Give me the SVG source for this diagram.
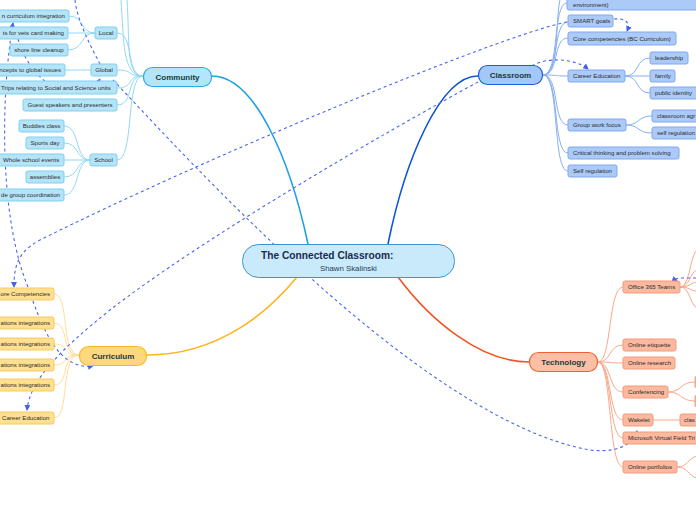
<svg xmlns="http://www.w3.org/2000/svg" width="696" height="520" viewBox="0 0 696 520">
<defs>
<style>
text{font-family:"Liberation Sans",Arial,sans-serif}
.main{font-size:8px;font-weight:bold;fill:#173a40}
.t{font-size:6.1px;fill:#2c2c2c}
.cn{fill:#b5e4f8;stroke:#7fcff0;stroke-width:1}
.cl{fill:#abcaf8;stroke:#7ea8ee;stroke-width:1}
.cu{fill:#ffdf90;stroke:#f8ca60;stroke-width:1}
.te{fill:#fbb99f;stroke:#f49a78;stroke-width:1}
.lc{fill:none;stroke:#92d8f5;stroke-width:1}
.ll{fill:none;stroke:#86aff2;stroke-width:1}
.lu{fill:none;stroke:#ffde9a;stroke-width:1}
.lt{fill:none;stroke:#f8a98c;stroke-width:1}
.d{fill:none;stroke:#4866ee;stroke-width:1.1;stroke-dasharray:3 3}
</style>
<marker id="ah" viewBox="0 0 6 6" refX="5" refY="3" markerWidth="6" markerHeight="6" markerUnits="userSpaceOnUse" orient="auto-start-reverse">
<path d="M0,0 L6,3 L0,6 Z" fill="#3f62ee"/>
</marker>
</defs>
<rect width="696" height="520" fill="#ffffff"/>

<g id="connectors">
<path d="M212,76 C255,76 290,160 308,244" fill="none" stroke="#1ea1e3" stroke-width="1.6"/>
<path d="M478,76 C440,76 405,160 388,244" fill="none" stroke="#0d55d4" stroke-width="1.6"/>
<path d="M147,355 C220,355 270,310 297,277" fill="none" stroke="#ffb41c" stroke-width="1.6"/>
<path d="M529,362 C480,362 430,320 398,277" fill="none" stroke="#f05423" stroke-width="1.6"/>
<path class="lc" d="M143,76 C125,76 130,40 127,0"/>
<path class="lc" d="M143,76 C122,76 124,40 121,0"/>
<path class="lc" d="M143,76 C125,76 135,33 117,33"/>
<path class="lc" d="M143,76 C125,76 135,70 117,70"/>
<path class="lc" d="M143,76 C125,76 135,88 117,88"/>
<path class="lc" d="M143,76 C125,76 135,105 117,105"/>
<path class="lc" d="M143,76 C125,76 135,160 117,160"/>
<path class="lc" d="M95,33 C80,33 84,16 69,16"/>
<path class="lc" d="M95,33 L68,33"/>
<path class="lc" d="M95,33 C80,33 84,50 68,50"/>
<path class="lc" d="M91,70 L65,70"/>
<path class="lc" d="M90,160 C75,160 80,126 64,126"/>
<path class="lc" d="M90,160 C75,160 80,143 64,143"/>
<path class="lc" d="M90,160 L64,160"/>
<path class="lc" d="M90,160 C75,160 80,177 64,177"/>
<path class="lc" d="M90,160 C75,160 80,195 64,195"/>
<path class="ll" d="M543,75 C560,75 555,20 560,0"/>
<path class="ll" d="M543,75 C560,75 552,3 567,3"/>
<path class="ll" d="M543,75 C560,75 552,22 568,22"/>
<path class="ll" d="M543,75 C560,75 552,38 568,38"/>
<path class="ll" d="M543,75 C560,75 552,76 568,76"/>
<path class="ll" d="M543,75 C560,75 552,125 568,125"/>
<path class="ll" d="M543,75 C560,75 552,153 568,153"/>
<path class="ll" d="M543,75 C560,75 552,171 568,171"/>
<path class="ll" d="M625,76 C640,76 635,58 650,58"/>
<path class="ll" d="M625,76 L650,76"/>
<path class="ll" d="M625,76 C640,76 635,93 650,93"/>
<path class="ll" d="M626,125 C640,125 637,116 652,116"/>
<path class="ll" d="M626,125 C640,125 637,133 652,133"/>
<path class="lu" d="M79,355 C60,355 70,294 54,294"/>
<path class="lu" d="M79,355 C60,355 70,323 54,323"/>
<path class="lu" d="M79,355 C60,355 70,344 54,344"/>
<path class="lu" d="M79,355 C60,355 70,365 54,365"/>
<path class="lu" d="M79,355 C60,355 70,385 54,385"/>
<path class="lu" d="M79,355 C60,355 70,418 54,418"/>
<path class="lt" d="M598,362 C612,362 608,287 623,287"/>
<path class="lt" d="M598,362 C612,362 608,345 623,345"/>
<path class="lt" d="M598,362 C612,362 608,363 623,363"/>
<path class="lt" d="M598,362 C612,362 608,392 623,392"/>
<path class="lt" d="M598,362 C612,362 608,420 623,420"/>
<path class="lt" d="M598,362 C612,362 608,438 623,438"/>
<path class="lt" d="M598,362 C612,362 608,467 623,467"/>
<path class="lt" d="M680,287 C690,287 690,255 697,250"/>
<path class="lt" d="M680,287 C690,287 690,272 697,270"/>
<path class="lt" d="M680,287 C690,287 690,283 697,282"/>
<path class="lt" d="M680,287 C690,287 690,291 697,291"/>
<path class="lt" d="M680,287 C690,287 690,305 697,308"/>
<path class="lt" d="M668,392 C682,392 680,382 695,382"/>
<path class="lt" d="M668,392 C682,392 680,401 695,401"/>
<path class="lt" d="M653,420 L680,420"/>
<path class="lt" d="M677,467 C688,467 688,458 697,456"/>
<path class="lt" d="M677,467 C688,467 688,476 697,478"/>
<path class="d" d="M113,80 C180,150 420,420 590,450 C615,453 632,446 637,431" marker-end="url(#ah)"/>
<path class="d" d="M18,39 C35,95 85,105 100,79" marker-end="url(#ah)"/>
<path class="d" d="M13,23 C0,100 0,220 28,287 C38,315 55,372 93,366" marker-start="url(#ah)" marker-end="url(#ah)"/>
<path class="d" d="M567,22 C500,35 200,160 40,240 C18,252 14,265 14,287" marker-end="url(#ah)"/>
<path class="d" d="M478,82 C380,135 200,240 110,310 C60,350 30,380 27,410" marker-end="url(#ah)"/>
<path class="d" d="M532,66 C545,57 575,58 588,69" marker-end="url(#ah)"/>
<path class="d" d="M614,19 C625,18 631,22 627,31" marker-end="url(#ah)"/>
<path class="d" d="M696,278 L681,278 C676,278 674,280 672,282" marker-end="url(#ah)"/>
<path class="d" d="M75,0 C77,20 90,45 100,64"/>
</g>

<g id="center">
<rect x="242.5" y="244.5" width="212" height="33" rx="16" fill="#c8eafb" stroke="#3b94d4" stroke-width="1"/>
<text x="261" y="259" style="font-size:10.2px;font-weight:bold;fill:#1a2a4e">The Connected Classroom:</text>
<text x="320" y="270.5" style="font-size:7.8px;fill:#2a3a5a">Shawn Skalinski</text>
</g>

<g id="community">
<rect x="143.5" y="67.5" width="68" height="19" rx="9" fill="#b3e6fa" stroke="#2aa9e6" stroke-width="1.2"/>
<text class="main" x="177.5" y="79.5" text-anchor="middle">Community</text>
</g>
<g id="local"><rect class="cn" x="95" y="27" width="22" height="12" rx="2"/><text class="t" x="106" y="35.2" text-anchor="middle">Local</text></g>
<g id="global"><rect class="cn" x="91" y="64" width="26" height="12" rx="2"/><text class="t" x="104" y="72.2" text-anchor="middle">Global</text></g>
<g id="trips"><rect class="cn" x="-3" y="81" width="120" height="13" rx="2"/><text class="t" x="1" y="89.7">Trips relating to Social and Science units</text></g>
<g id="guest"><rect class="cn" x="23" y="99" width="94" height="12" rx="2"/><text class="t" x="70" y="107.2" text-anchor="middle">Guest speakers and presenters</text></g>
<g id="school"><rect class="cn" x="90" y="154" width="27" height="12" rx="2"/><text class="t" x="103.5" y="162.2" text-anchor="middle">School</text></g>
<g id="curric-integration"><rect class="cn" x="-3" y="10" width="72" height="12" rx="2"/><text class="t" x="65" y="18.2" text-anchor="end">n curriculum integration</text></g>
<g id="vets"><rect class="cn" x="-3" y="27" width="71" height="12" rx="2"/><text class="t" x="64" y="35.2" text-anchor="end">ts for vets card making</text></g>
<g id="shoreline"><rect class="cn" x="10" y="44" width="58" height="12" rx="2"/><text class="t" x="39" y="52.2" text-anchor="middle">shore line cleanup</text></g>
<g id="concepts"><rect class="cn" x="-3" y="64" width="68" height="12" rx="2"/><text class="t" x="61" y="72.2" text-anchor="end">ncepts to global issues</text></g>
<g id="buddies"><rect class="cn" x="19" y="120" width="45" height="12" rx="2"/><text class="t" x="41.5" y="128.2" text-anchor="middle">Buddies class</text></g>
<g id="sports"><rect class="cn" x="26" y="137" width="38" height="12" rx="2"/><text class="t" x="45" y="145.2" text-anchor="middle">Sports day</text></g>
<g id="whole"><rect class="cn" x="-3" y="154" width="67" height="12" rx="2"/><text class="t" x="3" y="162.2">Whole school events</text></g>
<g id="assemblies"><rect class="cn" x="26" y="171" width="38" height="12" rx="2"/><text class="t" x="45" y="179.2" text-anchor="middle">assemblies</text></g>
<g id="grade"><rect class="cn" x="-3" y="189" width="67" height="12" rx="2"/><text class="t" x="60" y="197.2" text-anchor="end">de group coordination</text></g>

<g id="classroom">
<rect x="478.5" y="65.5" width="64" height="19" rx="9" fill="#a3c8f8" stroke="#1a5fd6" stroke-width="1.2"/>
<text class="main" x="510.5" y="78" text-anchor="middle">Classroom</text>
</g>
<g id="environment"><rect class="cl" x="567" y="-6" width="135" height="16" rx="2"/><text class="t" x="573" y="7">environment)</text></g>
<g id="smart"><rect class="cl" x="568" y="15" width="45" height="12" rx="2"/><text class="t" x="573" y="23.2">SMART goals</text></g>
<g id="corecomp"><rect class="cl" x="568" y="32" width="108" height="13" rx="2"/><text class="t" x="573" y="40.7">Core competencies (BC Curriculum)</text></g>
<g id="career-cl"><rect class="cl" x="568" y="70" width="57" height="12" rx="2"/><text class="t" x="573" y="78.2">Career Education</text></g>
<g id="leadership"><rect class="cl" x="650" y="52" width="38" height="12" rx="2"/><text class="t" x="655" y="60.2">leadership</text></g>
<g id="family"><rect class="cl" x="650" y="70" width="25" height="12" rx="2"/><text class="t" x="655" y="78.2">family</text></g>
<g id="publicid"><rect class="cl" x="650" y="87" width="50" height="12" rx="2"/><text class="t" x="655" y="95.2">public identity</text></g>
<g id="groupwork"><rect class="cl" x="568" y="119" width="58" height="12" rx="2"/><text class="t" x="573" y="127.2">Group work focus</text></g>
<g id="classagr"><rect class="cl" x="652" y="110" width="50" height="12" rx="2"/><text class="t" x="657" y="118.2">classroom agr</text></g>
<g id="selfreg2"><rect class="cl" x="652" y="127" width="50" height="12" rx="2"/><text class="t" x="657" y="135.2">self regulation</text></g>
<g id="critical"><rect class="cl" x="568" y="147" width="111" height="12" rx="2"/><text class="t" x="573" y="155.2">Critical thinking and problem solving</text></g>
<g id="selfreg"><rect class="cl" x="568" y="165" width="49" height="12" rx="2"/><text class="t" x="573" y="173.2">Self regulation</text></g>

<g id="curriculum">
<rect x="79.5" y="346.5" width="67" height="19" rx="9" fill="#ffd77f" stroke="#f8b92e" stroke-width="1.2"/>
<text class="main" x="113" y="359" text-anchor="middle">Curriculum</text>
</g>
<g id="corecomp-cu"><rect class="cu" x="-3" y="288" width="57" height="12" rx="2"/><text class="t" x="50" y="296.2" text-anchor="end">ore Competencies</text></g>
<g id="integ1"><rect class="cu" x="-3" y="317" width="57" height="12" rx="2"/><text class="t" x="50" y="325.2" text-anchor="end">ations integrations</text></g>
<g id="integ2"><rect class="cu" x="-3" y="338" width="57" height="12" rx="2"/><text class="t" x="50" y="346.2" text-anchor="end">ations integrations</text></g>
<g id="integ3"><rect class="cu" x="-3" y="359" width="57" height="12" rx="2"/><text class="t" x="50" y="367.2" text-anchor="end">ations integrations</text></g>
<g id="integ4"><rect class="cu" x="-3" y="379" width="57" height="12" rx="2"/><text class="t" x="50" y="387.2" text-anchor="end">ations integrations</text></g>
<g id="career-cu"><rect class="cu" x="-3" y="412" width="57" height="12" rx="2"/><text class="t" x="2" y="420.2">Career Education</text></g>

<g id="technology">
<rect x="529.5" y="352.5" width="68" height="19" rx="9" fill="#fbbfa5" stroke="#f2622e" stroke-width="1.2"/>
<text class="main" x="563.5" y="365" text-anchor="middle">Technology</text>
</g>
<g id="office"><rect class="te" x="623" y="281" width="57" height="12" rx="2"/><text class="t" x="628" y="289.2">Office 365 Teams</text></g>
<g id="etiquette"><rect class="te" x="623" y="339" width="53" height="12" rx="2"/><text class="t" x="628" y="347.2">Online etiquette</text></g>
<g id="research"><rect class="te" x="623" y="357" width="52" height="12" rx="2"/><text class="t" x="628" y="365.2">Online research</text></g>
<g id="conferencing"><rect class="te" x="623" y="386" width="45" height="12" rx="2"/><text class="t" x="628" y="394.2">Conferencing</text></g>
<g id="conf1"><rect class="te" x="695" y="376" width="20" height="12" rx="2"/></g>
<g id="conf2"><rect class="te" x="695" y="395" width="20" height="12" rx="2"/></g>
<g id="wakelet"><rect class="te" x="623" y="414" width="30" height="12" rx="2"/><text class="t" x="628" y="422.2">Wakelet</text></g>
<g id="wakelet-class"><rect class="te" x="680" y="414" width="30" height="12" rx="2"/><text class="t" x="684" y="422.2">clas</text></g>
<g id="mvft"><rect class="te" x="623" y="432" width="80" height="12" rx="2"/><text class="t" x="628" y="440.2">Microsoft Virtual Field Tri</text></g>
<g id="portfolios"><rect class="te" x="623" y="461" width="54" height="12" rx="2"/><text class="t" x="628" y="469.2">Online portfolios</text></g>
</svg>
